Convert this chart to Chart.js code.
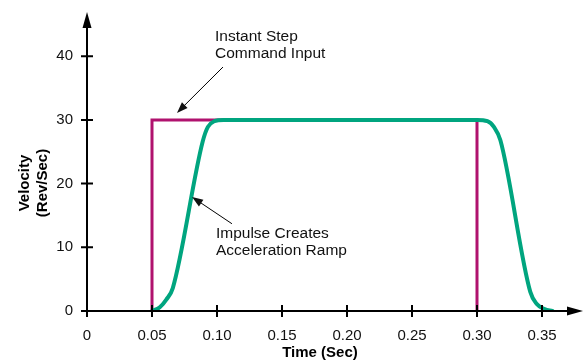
<!DOCTYPE html>
<html>
<head>
<meta charset="utf-8">
<script src="https://cdn.jsdelivr.net/npm/chart.js@4/dist/chart.umd.min.js"></script>
<style>
  html, body { margin: 0; padding: 0; background: #fff; }
  #wrap { width: 585px; height: 363px; }
</style>
</head>
<body>
<div id="wrap"><canvas id="velChart"></canvas></div>
<script>
// step command: jumps to 30 rev/s at 0.05 s, drops back at 0.30 s
const stepTime = [0.05, 0.05, 0.30, 0.30];
const stepVel = [0, 30, 30, 0];

// actual motor response with ramps
const rampTime = [0.05, 0.056, 0.061, 0.066, 0.089, 0.093, 0.098, 0.105, 0.30, 0.308, 0.313, 0.318, 0.341, 0.346, 0.352, 0.358];
const rampVel = [0, 0.6, 1.8, 3.6, 26.6, 28.9, 29.8, 30, 30, 29.8, 28.9, 26.8, 3.0, 1.1, 0.3, 0];

const xTicks = [0, 0.05, 0.10, 0.15, 0.20, 0.25, 0.30, 0.35];
const yTicks = [0, 10, 20, 30, 40];

// callout text + arrow (tail -> tip), in data units
const callouts = [
  { lines: ['Instant Step', 'Command Input'], x: 0.0985, y: 42.4, from: [0.1046, 38.3], to: [0.0692, 31.1] },
  { lines: ['Impulse Creates', 'Acceleration Ramp'], x: 0.0992, y: 11.5, from: [0.1115, 13.7], to: [0.0808, 17.9] }
];

const FONT = '"Liberation Sans", Arial, Helvetica, sans-serif';

function toPts(xs, ys) {
  return xs.map((x, i) => ({ x: x, y: ys[i] }));
}

function arrowHead(ctx, x1, y1, x2, y2, len, half) {
  const a = Math.atan2(y2 - y1, x2 - x1);
  ctx.beginPath();
  ctx.moveTo(x2, y2);
  ctx.lineTo(x2 - len * Math.cos(a) + half * Math.sin(a), y2 - len * Math.sin(a) - half * Math.cos(a));
  ctx.lineTo(x2 - len * Math.cos(a) - half * Math.sin(a), y2 - len * Math.sin(a) + half * Math.cos(a));
  ctx.closePath();
  ctx.fill();
}

// axes with crossing ticks and arrow ends, titles, callouts
const decorations = {
  id: 'decorations',
  afterDatasetsDraw(chart) {
    const ctx = chart.ctx;
    const xs = chart.scales.x, ys = chart.scales.y;
    const x0 = xs.getPixelForValue(0), y0 = ys.getPixelForValue(0);
    ctx.save();
    ctx.strokeStyle = '#000';
    ctx.fillStyle = '#000';
    ctx.lineWidth = 2;

    ctx.beginPath();
    ctx.moveTo(x0, y0);
    ctx.lineTo(chart.width - 8, y0);
    ctx.moveTo(x0, y0);
    ctx.lineTo(x0, 20);
    xTicks.forEach(v => {
      const p = xs.getPixelForValue(v);
      ctx.moveTo(p, y0 - 6);
      ctx.lineTo(p, y0 + 6);
    });
    yTicks.forEach(v => {
      const p = ys.getPixelForValue(v);
      ctx.moveTo(x0 - 6, p);
      ctx.lineTo(x0 + 6, p);
    });
    ctx.stroke();
    arrowHead(ctx, x0, y0, chart.width - 2, y0, 16, 4.5);
    arrowHead(ctx, x0, y0, x0, 12, 16, 4.5);

    // axis titles
    ctx.font = 'bold 15px ' + FONT;
    ctx.textAlign = 'center';
    ctx.textBaseline = 'middle';
    ctx.fillText('Time (Sec)', 320, 353);
    ctx.save();
    ctx.translate(25, 183);
    ctx.rotate(-Math.PI / 2);
    ctx.fillText('Velocity', 0, 0);
    ctx.fillText('(Rev/Sec)', 0, 18);
    ctx.restore();

    // callouts
    ctx.font = '15.5px ' + FONT;
    ctx.fillStyle = '#111';
    ctx.textAlign = 'left';
    ctx.textBaseline = 'alphabetic';
    ctx.lineWidth = 1;
    callouts.forEach(c => {
      const tx = xs.getPixelForValue(c.x), ty = ys.getPixelForValue(c.y);
      c.lines.forEach((t, i) => ctx.fillText(t, tx, ty + i * 17));
      const fx = xs.getPixelForValue(c.from[0]), fy = ys.getPixelForValue(c.from[1]);
      const px = xs.getPixelForValue(c.to[0]), py = ys.getPixelForValue(c.to[1]);
      const a = Math.atan2(py - fy, px - fx);
      ctx.beginPath();
      ctx.moveTo(fx, fy);
      ctx.lineTo(px - 8 * Math.cos(a), py - 8 * Math.sin(a));
      ctx.stroke();
      arrowHead(ctx, fx, fy, px, py, 11, 4);
    });
    ctx.restore();
  }
};

new Chart(document.getElementById('velChart'), {
  type: 'scatter',
  data: {
    datasets: [
      {
        label: 'Ramp',
        data: toPts(rampTime, rampVel),
        showLine: true,
        borderColor: '#00A57F',
        borderWidth: 4,
        pointRadius: 0,
        cubicInterpolationMode: 'monotone',
        borderCapStyle: 'round',
        order: 0
      },
      {
        label: 'Step',
        data: toPts(stepTime, stepVel),
        showLine: true,
        borderColor: '#B0126E',
        borderWidth: 3,
        pointRadius: 0,
        tension: 0,
        order: 1
      }
    ]
  },
  options: {
    responsive: true,
    maintainAspectRatio: false,
    animation: false,
    layout: { padding: { left: 0, right: 4, top: 18, bottom: 0 } },
    plugins: {
      legend: { display: false },
      tooltip: { enabled: false }
    },
    scales: {
      x: {
        type: 'linear',
        min: 0,
        max: 0.38,
        afterFit: s => { s.height = 52; },
        afterBuildTicks: s => { s.ticks = xTicks.map(v => ({ value: v })); },
        grid: { display: false },
        border: { display: false },
        ticks: {
          padding: 8,
          color: '#111',
          font: { family: FONT, size: 15 },
          maxRotation: 0,
          callback: v => v === 0 ? '0' : v.toFixed(2)
        }
      },
      y: {
        min: 0,
        max: 46,
        afterFit: s => { s.width = 87; },
        afterBuildTicks: s => { s.ticks = yTicks.map(v => ({ value: v })); },
        grid: { display: false },
        border: { display: false },
        ticks: {
          padding: 6,
          color: '#111',
          font: { family: FONT, size: 15 }
        }
      }
    }
  },
  plugins: [decorations]
});
</script>
</body>
</html>
